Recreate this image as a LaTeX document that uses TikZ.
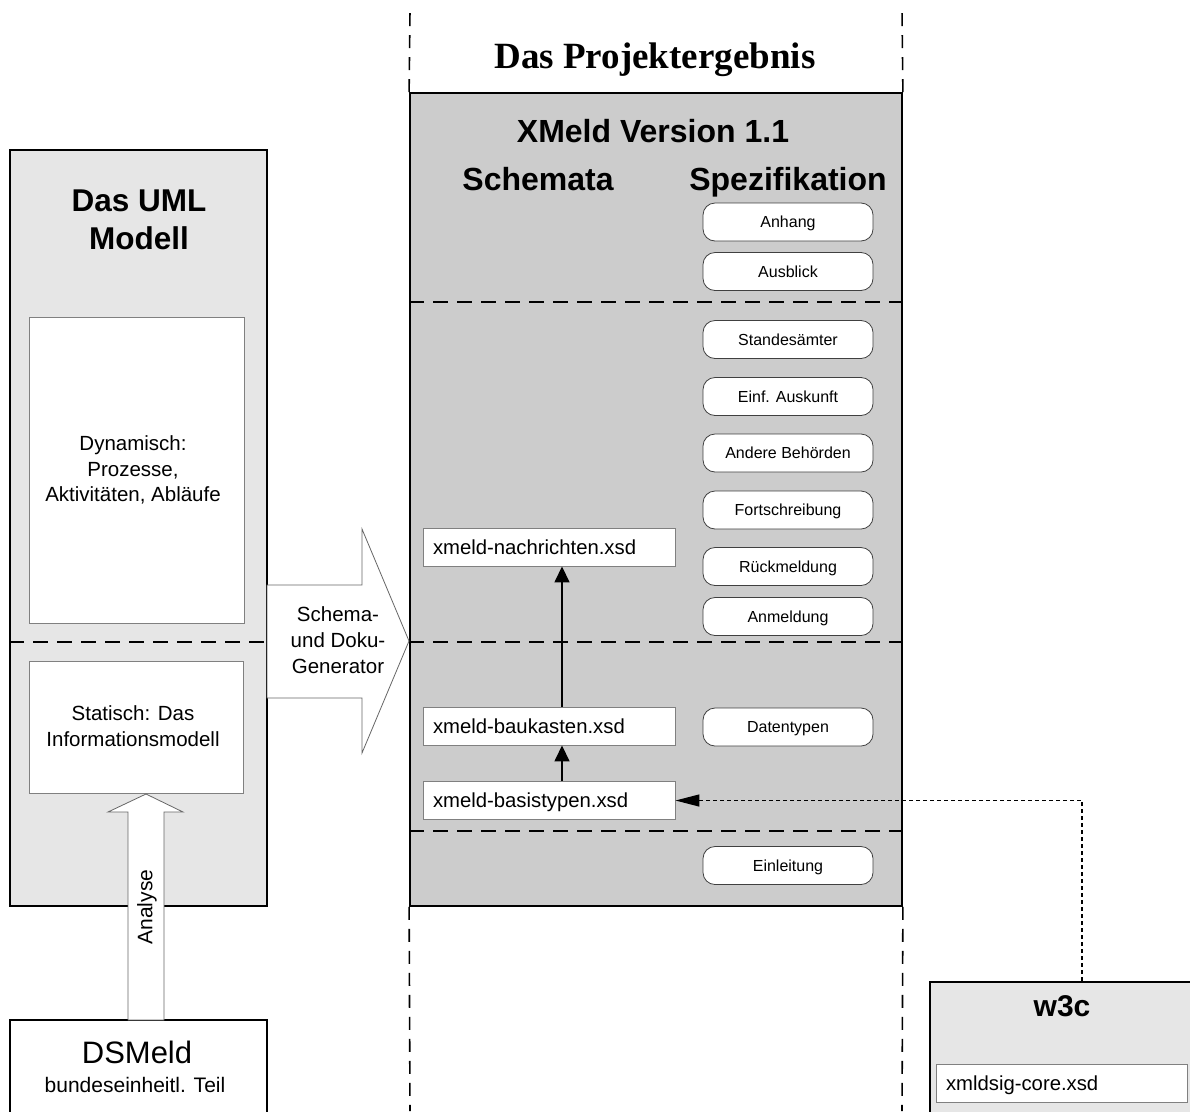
\documentclass[tikz,border=0pt]{standalone}
\usepackage{fontspec}
\setmainfont{Liberation Sans}
\newfontfamily\titleserif{Liberation Serif}
\usetikzlibrary{arrows.meta}
\definecolor{mainfill}{RGB}{204,204,204}
\definecolor{sidefill}{RGB}{230,230,230}
\begin{document}
\begin{tikzpicture}[x=1pt,y=-1pt,
  frame/.style={draw=black, line width=1.8pt, inner sep=0pt},
  whitebox/.style={draw=black!50, fill=white, line width=0.9pt, inner sep=0pt},
  specbox/.style={draw=black!75, fill=white, line width=0.8pt, rounded corners=12pt,
    minimum width=170pt, minimum height=38pt, inner sep=0pt, text height=11.5pt, text depth=0pt,
    font=\fontsize{16}{19}\selectfont},
  xsdbox/.style={draw=black!50, fill=white, line width=0.9pt, minimum height=38pt,
    text width=232pt, inner xsep=10pt, inner ysep=0pt, align=left, text height=14.3pt, text depth=0pt,
    font=\fontsize{20.3}{24}\selectfont},
  sepline/.style={line width=1.6pt, dash pattern=on 15pt off 9pt},
  vdash/.style={line width=1.6pt, dash pattern=on 13pt off 9pt},
  depline/.style={-{Triangle[length=24pt,width=12pt]}, line width=1.4pt, dash pattern=on 4pt off 3pt},
  usesline/.style={-{Triangle[length=16pt,width=15pt]}, line width=1.6pt},
  bigarrow/.style={draw=black!60, fill=white, line width=0.8pt}
]
\useasboundingbox (0,0) rectangle (1190,1111);
\clip (0,0) rectangle (1190,1111);
\fill[white] (0,0) rectangle (1190,1111);

% ---------- left: UML model ----------
\node[frame, fill=sidefill, minimum width=257pt, minimum height=756pt] (uml) at (138.5,528) {};
\node[align=center, inner sep=0pt, font=\bfseries\fontsize{31.5}{38}\selectfont] (umltitle) at (139,220) {Das UML\\Modell};
\node[whitebox, minimum width=215pt, minimum height=306pt] (dynbox) at (136.5,470) {};
\node[align=center, inner sep=0pt, font=\fontsize{20.5}{25.5}\selectfont] (dyntext) at (133,470) {Dynamisch:\\Prozesse,\\Aktivitäten, Abläufe};
\draw[sepline] (uml.west |- 0,642) coordinate (umlsepL) -- (uml.east |- 0,642) coordinate (umlsepR);
\node[whitebox, minimum width=214pt, minimum height=132pt] (statbox) at (136,727) {};
\node[align=center, inner sep=0pt, font=\fontsize{20.5}{26.5}\selectfont] (stattext) at (133,726) {Statisch: Das\\Informationsmodell};

% ---------- DSMeld ----------
\node[draw=black, line width=1.4pt, fill=white, minimum width=257pt, minimum height=100pt, inner sep=0pt] (dsmeld) at (138.5,1070) {};
\node[anchor=base, inner sep=0pt, font=\fontsize{31}{31}\selectfont] (dsname) at (137,1063) {DSMeld};
\node[anchor=base, inner sep=0pt, font=\fontsize{21}{21}\selectfont] (dssub) at (135,1092) {bundeseinheitl. Teil};

% Analyse arrow
\draw[bigarrow] (128,1020) -- (128,812) -- (108,812) -- (146,794) -- (183,812) -- (164,812) -- (164,1020) -- cycle;
\node[rotate=90, inner sep=0pt, font=\fontsize{21}{21}\selectfont] (analyse) at (147,907) {Analyse};

% ---------- main box ----------
\node[frame, fill=mainfill, minimum width=492pt, minimum height=813pt] (main) at (656,499.5) {};
\draw[vdash] (main.north west) -- (410,10) coordinate (vl1);
\draw[vdash] (main.south west) -- (410,1111) coordinate (vl2);
\draw[vdash] (main.north east) -- (902,10) coordinate (vr1);
\draw[vdash] (main.south east) -- (902,1111) coordinate (vr2);
\draw[sepline] (main.west |- 0,302) -- (main.east |- 0,302);
\draw[sepline] (main.west |- 0,642) -- (main.east |- 0,642);
\draw[sepline] (main.west |- 0,831) -- (main.east |- 0,831);

\node[anchor=base, inner sep=0pt, font=\titleserif\bfseries\fontsize{37}{40}\selectfont] (title) at (655,68) {Das Projektergebnis};
\node[anchor=base, inner sep=0pt, font=\bfseries\fontsize{32}{36}\selectfont] (xmeld) at (653,142) {XMeld Version 1.1};
\node[anchor=base, inner sep=0pt, font=\bfseries\fontsize{32}{36}\selectfont] (schemata) at (538,190) {Schemata};
\node[anchor=base, inner sep=0pt, font=\bfseries\fontsize{32}{36}\selectfont] (spez) at (788,190) {Spezifikation};

\node[specbox] (anhang) at (788,222) {Anhang};
\node[specbox] (ausblick) at (788,271.5) {Ausblick};
\node[specbox] (standes) at (788,339.5) {Standesämter};
\node[specbox] (einf) at (788,396.5) {Einf. Auskunft};
\node[specbox] (andere) at (788,453) {Andere Behörden};
\node[specbox] (fort) at (788,510) {Fortschreibung};
\node[specbox] (rueck) at (788,566.5) {Rückmeldung};
\node[specbox] (anmeld) at (788,616.5) {Anmeldung};
\node[specbox] (daten) at (788,727) {Datentypen};
\node[specbox] (einl) at (788,865.5) {Einleitung};

\node[xsdbox] (nachr) at (549,547) {xmeld-nachrichten.xsd};
\node[xsdbox] (bauk) at (549,726) {xmeld-baukasten.xsd};
\node[xsdbox] (basis) at (549,800.5) {xmeld-basistypen.xsd};

\draw[usesline] ([xshift=13pt]bauk.north) -- ([xshift=13pt]nachr.south);
\draw[usesline] ([xshift=13pt]basis.north) -- ([xshift=13pt]bauk.south);

% Schema- und Doku-Generator arrow
\draw[bigarrow] (267,585) -- (362,585) -- (362,529) -- (409,641) -- (362,753) -- (362,698) -- (267,698) -- cycle;
\node[align=center, inner sep=0pt, font=\fontsize{20.5}{26}\selectfont] (gen) at (338,640) {Schema-\\und Doku-\\Generator};

% ---------- w3c ----------
\node[draw=black, line width=1.8pt, fill=sidefill, minimum width=262pt, minimum height=135pt, inner sep=0pt] (w3c) at (1061,1049.5) {};
\node[anchor=base, inner sep=0pt, font=\bfseries\fontsize{30}{30}\selectfont] (w3ctitle) at (1062,1016) {w3c};
\node[xsdbox, text width=231pt] (xmldsig) at (1061.5,1083) {xmldsig-core.xsd};

\draw[depline] ([xshift=21pt]w3c.north) |- (basis.east);
\end{tikzpicture}
\end{document}
